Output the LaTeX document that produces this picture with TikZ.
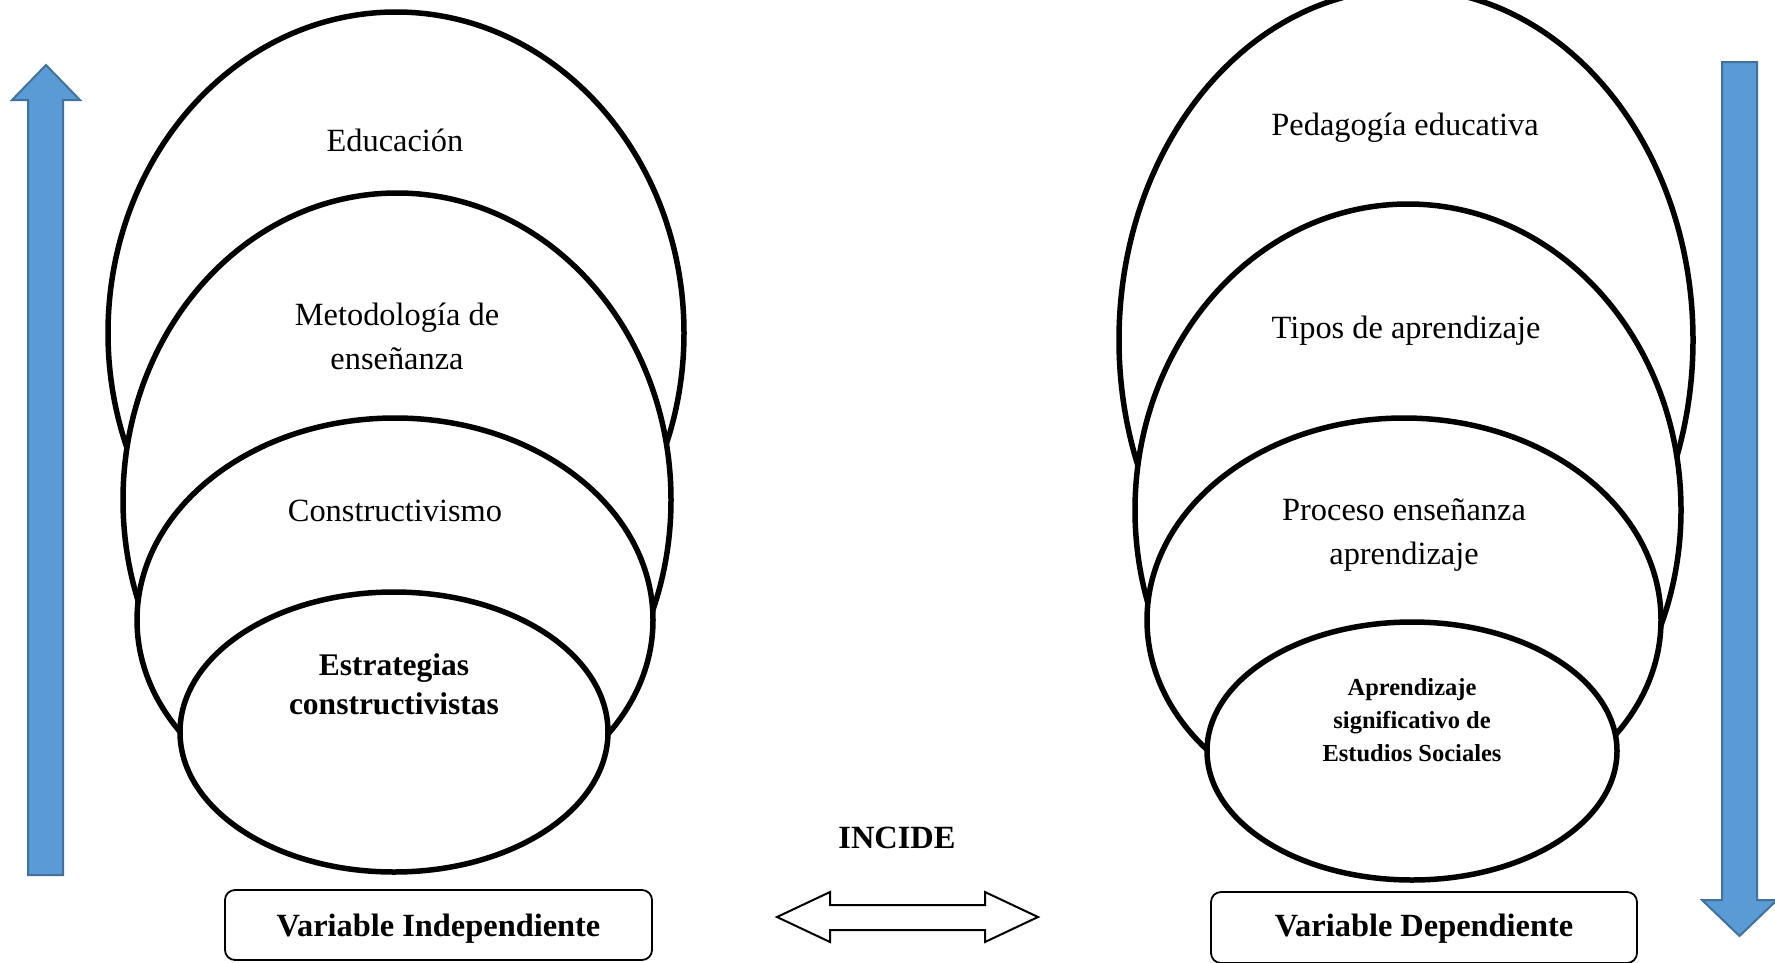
\documentclass[tikz,border=0pt]{standalone}
\usepackage{fontspec}
\setmainfont{Liberation Serif}
\definecolor{arrowfill}{HTML}{5B9BD5}
\definecolor{arrowline}{HTML}{41719C}
\begin{document}
\begin{tikzpicture}[x=1pt,y=-1pt,
  ring/.style={draw=black, line width=5.5pt, fill=white},
  lbl/.style={font=\fontsize{32.4}{44}\selectfont, align=center, inner sep=0pt},
  blbl/.style={font=\fontsize{31.5}{39}\selectfont\bfseries, align=center, inner sep=0pt},
  slbl/.style={font=\fontsize{24.5}{33}\selectfont\bfseries, align=center, inner sep=0pt},
  varbox/.style={draw=black, line width=1.8pt, rounded corners=10pt, fill=white,
    font=\fontsize{32.4}{39}\selectfont\bfseries, inner sep=0pt},
  bluearrow/.style={fill=arrowfill, draw=arrowline, line width=2pt, line join=miter},
  dblarrow/.style={fill=white, draw=black, line width=2pt, line join=miter}]
\useasboundingbox (0,0) rectangle (1775,962);

% left group of ellipses
\draw[ring] (396,333) ellipse [x radius=288pt, y radius=321pt];
\draw[ring] (397,500) ellipse [x radius=274pt, y radius=307pt];
\draw[ring] (395,620) ellipse [x radius=258pt, y radius=202pt];
\draw[ring] (394,732) ellipse [x radius=214pt, y radius=140pt];

\node[lbl] (educ) at (395,140) {Educación};
\node[lbl] (metod) at (397,336) {Metodología de\\enseñanza};
\node[lbl] (constr) at (395,511) {Constructivismo};
\node[blbl] (estr) at (394,684) {Estrategias\\constructivistas};

% right group of ellipses
\draw[ring] (1406,340) ellipse [x radius=287pt, y radius=351pt];
\draw[ring] (1408,510) ellipse [x radius=273pt, y radius=306pt];
\draw[ring] (1404,620) ellipse [x radius=257pt, y radius=202pt];
\draw[ring] (1412,751) ellipse [x radius=205pt, y radius=129pt];

\node[lbl] (pedag) at (1405,127.5) {Pedagogía educativa};
\node[lbl] (tipos) at (1406,330.5) {Tipos de aprendizaje};
\node[lbl] (proc) at (1404,535.5) {Proceso enseñanza\\aprendizaje};
\node[slbl] (aprend) at (1412,720) {Aprendizaje\\significativo de\\Estudios Sociales};

% variable boxes
\node[varbox, minimum width=427pt, minimum height=70pt] (vi) at (438.5,925) {};
\node[font=\fontsize{32.4}{39}\selectfont\bfseries, inner sep=0pt] (vitext) at (438.5,928.5) {Variable Independiente};
\node[varbox, minimum width=426pt, minimum height=71pt] (vd) at (1424,927.5) {};
\node[font=\fontsize{32.4}{39}\selectfont\bfseries, inner sep=0pt] (vdtext) at (1424,928.5) {Variable Dependiente};

% INCIDE and double arrow
\node[font=\fontsize{32.4}{39}\selectfont\bfseries, inner sep=0pt] (incide) at (897,838) {INCIDE};
\draw[dblarrow] (777,917) -- (830,892) -- (830,905) -- (985,905) -- (985,892) -- (1038,917)
  -- (985,942) -- (985,930) -- (830,930) -- (830,942) -- cycle;

% blue arrows
\draw[bluearrow] (28,875) -- (28,100) -- (12,100) -- (46,65) -- (80,100) -- (63,100) -- (63,875) -- cycle;
\draw[bluearrow] (1722,62) -- (1757,62) -- (1757,900) -- (1777,900) -- (1739.5,936) -- (1702,900) -- (1722,900) -- cycle;
\end{tikzpicture}
\end{document}
